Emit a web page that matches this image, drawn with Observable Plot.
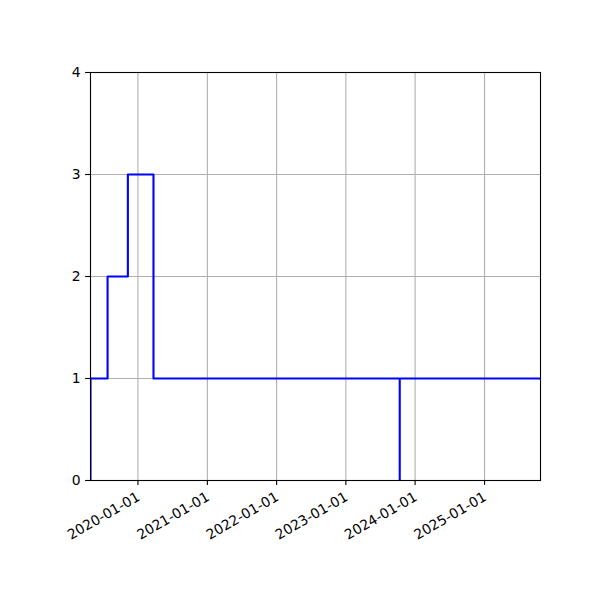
<!DOCTYPE html>
<html>
<head>
<meta charset="utf-8">
<script src="https://cdn.jsdelivr.net/npm/d3@7"></script>
<script src="https://cdn.jsdelivr.net/npm/@observablehq/plot@0.6"></script>
<style>
  html, body { margin: 0; padding: 0; background: white; }
</style>
</head>
<body>
<div id="chart"></div>
<script>
// Step data (steps-post)
const dates = ["2019-04-26", "2019-04-26", "2019-07-25", "2019-11-09", "2020-03-23", "2023-10-12", "2023-10-12", "2025-10-23"];
const values = [0, 1, 2, 3, 1, 0, 1, 1];
const xTickLabels = ["2020-01-01", "2021-01-01", "2022-01-01", "2023-01-01", "2024-01-01", "2025-01-01"];
const yTicks = [0, 1, 2, 3, 4];
const xDomain = ["2019-04-26", "2025-10-23"];

const data = dates.map((d, i) => ({date: new Date(d), value: values[i]}));
const xTicks = xTickLabels.map(d => new Date(d));
const fmt = d3.utcFormat("%Y-%m-%d");

const chart = Plot.plot({
  width: 600,
  height: 600,
  marginLeft: 90,
  marginRight: 60,
  marginTop: 72,
  marginBottom: 120,
  style: {fontFamily: "DejaVu Sans", fontSize: "13.9px", color: "black", background: "white"},
  x: {type: "utc", domain: xDomain.map(d => new Date(d))},
  y: {domain: [0, 4]},
  marks: [
    Plot.gridX(xTicks, {stroke: "#b0b0b0", strokeOpacity: 1, strokeWidth: 1.1}),
    Plot.gridY(yTicks, {stroke: "#b0b0b0", strokeOpacity: 1, strokeWidth: 1.1}),
    Plot.lineY(data, {x: "date", y: "value", curve: "step-after", stroke: "blue", strokeWidth: 2.1, clip: true}),
    Plot.frame({stroke: "black", strokeWidth: 1.1}),
    Plot.axisY(yTicks, {tickSize: 4.9, tickPadding: 4.9, fontSize: 13.9, strokeWidth: 1.1, stroke: "black", label: null, tickFormat: d => String(d)}),
    Plot.axisX(xTicks, {tickSize: 4.9, tickFormat: () => "", strokeWidth: 1.1, stroke: "black", label: null}),
    Plot.text(xTicks, {x: d => d, frameAnchor: "bottom", dx: -2, dy: 10.5, text: d => fmt(d), rotate: -30, textAnchor: "end", lineAnchor: "top", fontSize: 13.9, fill: "black"})
  ]
});
document.getElementById("chart").appendChild(chart);
</script>
</body>
</html>
